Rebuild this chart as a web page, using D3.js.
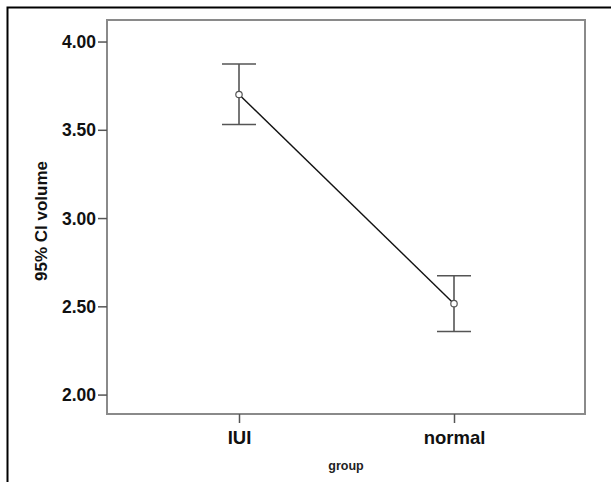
<!DOCTYPE html>
<html><head><meta charset="utf-8">
<script src="https://cdn.jsdelivr.net/npm/d3@7"></script>
<style>body{margin:0;background:#fff}svg{display:block}</style>
</head><body>
<svg id="c" width="611" height="482"></svg>
<script>
const categories = ["IUI", "normal"];
const means = [3.70, 2.515];
const lower = [3.53, 2.357];
const upper = [3.873, 2.673];
const yTicks = [2.00, 2.50, 3.00, 3.50, 4.00];
const yLabel = "95% CI volume";
const xLabel = "group";

const svg = d3.select("#c");
const font = "'Liberation Sans', Arial, sans-serif";
const L = 107, R = 585, T = 20, B = 414;

// outer frame (left and top)
svg.append("path").attr("d", `M7.5,482 V7.5 H611`).attr("fill","none").attr("stroke","#000").attr("stroke-width",2);

const y = d3.scaleLinear().domain([1.89, 4.122]).range([B, T]);
const xs = d3.scalePoint().domain(categories).range([239, 454]);

// plot box
svg.append("rect").attr("x", L).attr("y", T).attr("width", R-L).attr("height", B-T)
  .attr("fill","none").attr("stroke","#8a8a8a").attr("stroke-width",2);

// y axis
const yAxis = d3.axisLeft(y).tickValues(yTicks).tickFormat(d3.format(".2f")).tickSize(9).tickSizeOuter(0);
const gy = svg.append("g").attr("transform",`translate(${L},0)`).call(yAxis);
gy.select(".domain").remove();
gy.selectAll(".tick line").attr("stroke","#555").attr("stroke-width",1.5);
gy.selectAll(".tick text").attr("font-family",font).attr("font-weight","bold").attr("font-size",17.5).attr("fill","#111").attr("x",-11).attr("dy","0.35em");

// x axis
const xAxis = d3.axisBottom(xs).tickSize(9).tickSizeOuter(0);
const gx = svg.append("g").attr("transform",`translate(0,${B})`).call(xAxis);
gx.select(".domain").remove();
gx.selectAll(".tick line").attr("stroke","#555").attr("stroke-width",1.5);
gx.selectAll(".tick text").attr("font-family",font).attr("font-weight","bold").attr("font-size",18.5).attr("fill","#111").attr("y",17).attr("dy","0.71em");

// axis titles
svg.append("text").attr("transform",`translate(47,221) rotate(-90)`).attr("text-anchor","middle")
  .attr("font-family",font).attr("font-weight","bold").attr("font-size",17).attr("fill","#111").text(yLabel);
svg.append("text").attr("x",(L+R)/2).attr("y",470).attr("text-anchor","middle")
  .attr("font-family",font).attr("font-weight","bold").attr("font-size",12.5).attr("fill","#222").text(xLabel);

// error bars
const capW = 17;
categories.forEach((c,i) => {
  const g = svg.append("g").attr("stroke","#555").attr("stroke-width",1.6);
  g.append("line").attr("x1",xs(c)).attr("x2",xs(c)).attr("y1",y(lower[i])).attr("y2",y(upper[i]));
  g.append("line").attr("x1",xs(c)-capW).attr("x2",xs(c)+capW).attr("y1",y(upper[i])).attr("y2",y(upper[i]));
  g.append("line").attr("x1",xs(c)-capW).attr("x2",xs(c)+capW).attr("y1",y(lower[i])).attr("y2",y(lower[i]));
});

// mean line
const line = d3.line().x((d,i)=>xs(categories[i])).y(d=>y(d));
svg.append("path").datum(means).attr("d",line).attr("fill","none").attr("stroke","#111").attr("stroke-width",1.4);

svg.selectAll("circle.m").data(means).enter().append("circle").attr("class","m")
  .attr("cx",(d,i)=>xs(categories[i])).attr("cy",d=>y(d)).attr("r",3.2)
  .attr("fill","#fff").attr("stroke","#555").attr("stroke-width",1.2);
</script>
</body></html>
